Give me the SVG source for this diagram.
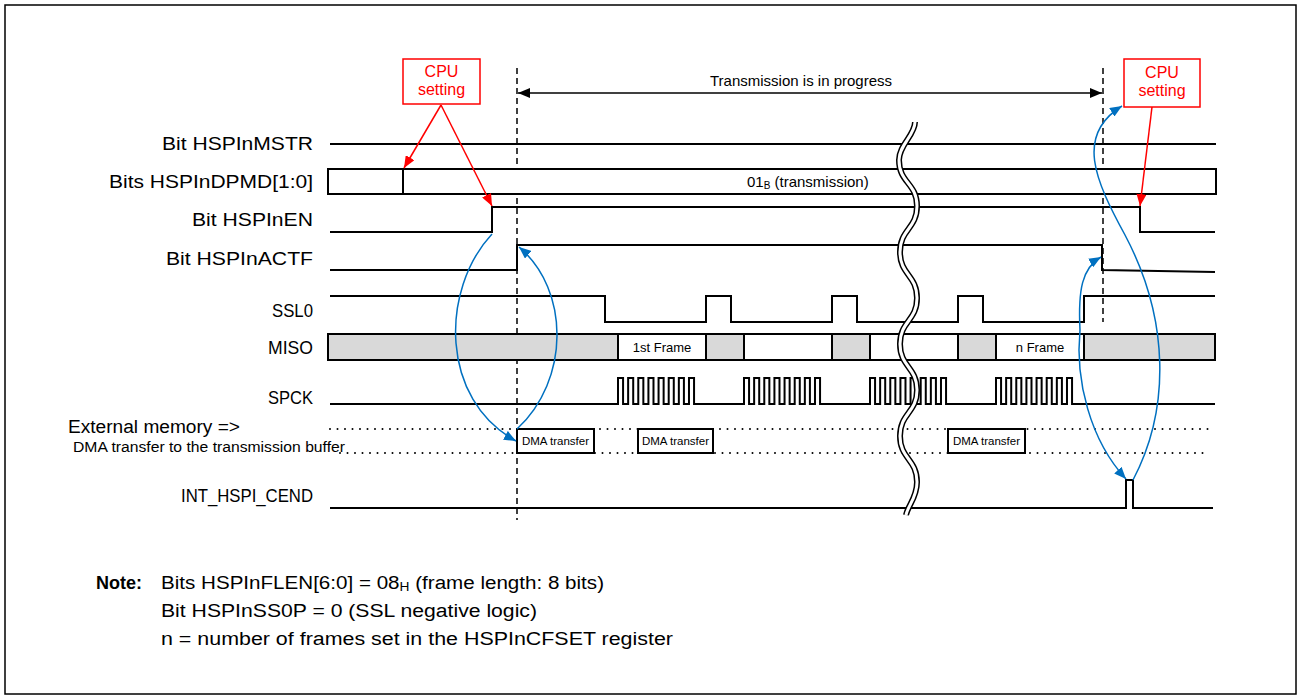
<svg xmlns="http://www.w3.org/2000/svg" width="1301" height="699" viewBox="0 0 1301 699">
<style>
text{font-family:"Liberation Sans",Arial,Helvetica,sans-serif;fill:#000}
.lbl{font-size:18px;text-anchor:end}
.sig{fill:none;stroke:#000;stroke-width:2}
.gray{fill:#D9D9D9;stroke:#000;stroke-width:2}
.white{fill:#fff;stroke:#000;stroke-width:2}
.dash{stroke:#000;stroke-width:1.5;stroke-dasharray:6 4;fill:none}
.dot{stroke:#000;stroke-width:2;stroke-dasharray:0 7.5;stroke-linecap:round;fill:none}
.blue{fill:none;stroke:#0070C0;stroke-width:1.5}
.red{fill:none;stroke:#FF0000;stroke-width:1.5}
.cpu{fill:#fff;stroke:#FF0000;stroke-width:1.5}
.cput{fill:#FF0000;font-size:16px;text-anchor:middle}
.small{font-size:11.5px;text-anchor:middle}
.frame{font-size:13px;text-anchor:middle}
.note{font-size:18px}
</style>
<defs>
<marker id="ab" viewBox="0 0 12 10" refX="12" refY="5" markerWidth="12" markerHeight="10" markerUnits="userSpaceOnUse" orient="auto-start-reverse"><path d="M0,0L12,5L0,10z" fill="#0070C0"/></marker>
<marker id="ar" viewBox="0 0 12 10" refX="12" refY="5" markerWidth="12" markerHeight="10" markerUnits="userSpaceOnUse" orient="auto-start-reverse"><path d="M0,0L12,5L0,10z" fill="#FF0000"/></marker>
<marker id="ak" viewBox="0 0 12 10" refX="12" refY="5" markerWidth="12" markerHeight="10" markerUnits="userSpaceOnUse" orient="auto-start-reverse"><path d="M0,0L12,5L0,10z" fill="#000"/></marker>
</defs>
<rect x="0" y="0" width="1301" height="699" fill="#fff"/>
<rect x="5" y="5" width="1291" height="689" fill="none" stroke="#000" stroke-width="1.5"/>

<g id="guides">
<line class="dash" x1="517" y1="68" x2="517" y2="520"/>
<line class="dash" x1="1103" y1="68" x2="1103" y2="322"/>
</g>

<g id="sig-mstr">
<text class="lbl" x="313" y="150" textLength="151" lengthAdjust="spacingAndGlyphs">Bit HSPInMSTR</text>
<path class="sig" d="M330,144H1216"/>
</g>
<g id="sig-dpmd">
<text class="lbl" x="313" y="188" textLength="204" lengthAdjust="spacingAndGlyphs">Bits HSPInDPMD[1:0]</text>
<rect class="white" x="328" y="169" width="888" height="25"/>
<line class="sig" x1="403" y1="169" x2="403" y2="194"/>
<text x="747" y="187" font-size="15">01<tspan font-size="10" dy="2">B</tspan><tspan dy="-2"> (transmission)</tspan></text>
</g>
<g id="sig-en">
<text class="lbl" x="313" y="226" textLength="121" lengthAdjust="spacingAndGlyphs">Bit HSPInEN</text>
<path class="sig" d="M330,232H492V207H1140V232H1215"/>
</g>
<g id="sig-actf">
<text class="lbl" x="313" y="265" textLength="147" lengthAdjust="spacingAndGlyphs">Bit HSPInACTF</text>
<path class="sig" d="M330,270H517V245H1102V270L1215,272"/>
</g>
<g id="sig-ssl0">
<text class="lbl" x="313" y="317" textLength="41" lengthAdjust="spacingAndGlyphs">SSL0</text>
<path class="sig" d="M330,296H605V322H706V296H731V322H832V296H857V322H958V296H983V322H1084V296H1215"/>
</g>
<g id="sig-miso">
<text class="lbl" x="313" y="354" textLength="45" lengthAdjust="spacingAndGlyphs">MISO</text>
<rect class="gray" x="328" y="334" width="290" height="26"/>
<rect class="white" x="618" y="334" width="88" height="26"/>
<rect class="gray" x="706" y="334" width="38" height="26"/>
<rect class="white" x="744" y="334" width="88" height="26"/>
<rect class="gray" x="832" y="334" width="38" height="26"/>
<rect class="white" x="870" y="334" width="88" height="26"/>
<rect class="gray" x="958" y="334" width="38" height="26"/>
<rect class="white" x="996" y="334" width="88" height="26"/>
<rect class="gray" x="1084" y="334" width="131" height="26"/>
<text class="frame" x="662" y="352">1st Frame</text>
<text class="frame" x="1040" y="352">n Frame</text>
</g>
<g id="sig-spck">
<text class="lbl" x="313" y="404" textLength="45" lengthAdjust="spacingAndGlyphs">SPCK</text>
<path class="sig" d="M330,404H618V378h5.07V404h5.07V378h5.07V404h5.07V378h5.07V404h5.07V378h5.07V404h5.07V378h5.07V404h5.07V378h5.07V404h5.07V378h5.07V404h5.07V378h5.07V404H744V378h5.07V404h5.07V378h5.07V404h5.07V378h5.07V404h5.07V378h5.07V404h5.07V378h5.07V404h5.07V378h5.07V404h5.07V378h5.07V404h5.07V378h5.07V404H870V378h5.07V404h5.07V378h5.07V404h5.07V378h5.07V404h5.07V378h5.07V404h5.07V378h5.07V404h5.07V378h5.07V404h5.07V378h5.07V404h5.07V378h5.07V404H996V378h5.07V404h5.07V378h5.07V404h5.07V378h5.07V404h5.07V378h5.07V404h5.07V378h5.07V404h5.07V378h5.07V404h5.07V378h5.07V404h5.07V378h5.07V404H1215"/>
</g>
<g id="sig-dma">
<text x="68" y="433" font-size="18" textLength="172" lengthAdjust="spacingAndGlyphs">External memory =&gt;</text>
<text x="73" y="452" font-size="14" textLength="272" lengthAdjust="spacingAndGlyphs">DMA transfer to the transmission buffer</text>
<line class="dot" x1="330" y1="429" x2="1213" y2="429"/>
<line class="dot" x1="340" y1="453" x2="1205" y2="453"/>
</g>
<g id="dma1"><rect class="white" x="517" y="429" width="77" height="24"/><text class="small" x="555.5" y="445">DMA transfer</text></g>
<g id="dma2"><rect class="white" x="638" y="429" width="75" height="24"/><text class="small" x="675.5" y="445">DMA transfer</text></g>
<g id="dma3"><rect class="white" x="948" y="429" width="77" height="24"/><text class="small" x="986.5" y="445">DMA transfer</text></g>
<g id="sig-int">
<text class="lbl" x="313" y="502" textLength="132" lengthAdjust="spacingAndGlyphs">INT_HSPI_CEND</text>
<path class="sig" d="M330,508H1126V480H1133V508H1213"/>
</g>

<g id="break">
<path d="M915,122 C915,135 899,145 899,160 C899,183 917,183 917,206 C917,229 900,229 900,252 C900,275 917,275 917,298 C917,321 900,321 900,344 C900,367 917,367 917,390 C917,413 900,413 900,436 C900,459 917,459 917,482 C917,498 908,505 906,515" fill="none" stroke="#000" stroke-width="6"/>
<path d="M915,122 C915,135 899,145 899,160 C899,183 917,183 917,206 C917,229 900,229 900,252 C900,275 917,275 917,298 C917,321 900,321 900,344 C900,367 917,367 917,390 C917,413 900,413 900,436 C900,459 917,459 917,482 C917,498 908,505 906,515" fill="none" stroke="#fff" stroke-width="3"/>
</g>

<g id="cpu1">
<rect class="cpu" x="403" y="59" width="77" height="45"/>
<text class="cput" x="441.5" y="77">CPU</text>
<text class="cput" x="441.5" y="95">setting</text>
</g>
<g id="cpu2">
<rect class="cpu" x="1124" y="59" width="76" height="48"/>
<text class="cput" x="1162" y="78">CPU</text>
<text class="cput" x="1162" y="96">setting</text>
</g>

<g id="transmission">
<text x="801" y="86" font-size="15" text-anchor="middle">Transmission is in progress</text>
</g>

<g id="connectors">
<line x1="518" y1="93" x2="1102" y2="93" stroke="#000" stroke-width="1.5" marker-start="url(#ak)" marker-end="url(#ak)"/>
<line class="red" x1="441" y1="105" x2="404" y2="168" marker-end="url(#ar)"/>
<line class="red" x1="441" y1="105" x2="492" y2="206" marker-end="url(#ar)"/>
<line class="red" x1="1152" y1="107" x2="1140" y2="206" marker-end="url(#ar)"/>
<path class="blue" d="M492,234 C440,290 440,400 516,441" marker-end="url(#ab)"/>
<path class="blue" d="M517,429 C570,380 570,290 519,247" marker-end="url(#ab)"/>
<path class="blue" d="M1133,480 C1170,410 1170,320 1125,235 C1095,180 1075,135 1122,106" marker-end="url(#ab)"/>
<path class="blue" d="M1126,479 C1090,440 1075,380 1080,330 C1078,290 1082,268 1101,257" marker-start="url(#ab)" marker-end="url(#ab)"/>
</g>

<g id="note">
<text class="note" x="96" y="589" font-weight="bold">Note:</text>
<text class="note" x="161" y="589" textLength="443" lengthAdjust="spacingAndGlyphs">Bits HSPInFLEN[6:0] = 08<tspan font-size="12" dy="2">H</tspan><tspan dy="-2"> (frame length: 8 bits)</tspan></text>
<text class="note" x="161" y="617" textLength="376" lengthAdjust="spacingAndGlyphs">Bit HSPInSS0P = 0 (SSL negative logic)</text>
<text class="note" x="161" y="645" textLength="512" lengthAdjust="spacingAndGlyphs">n = number of frames set in the HSPInCFSET register</text>
</g>
</svg>
